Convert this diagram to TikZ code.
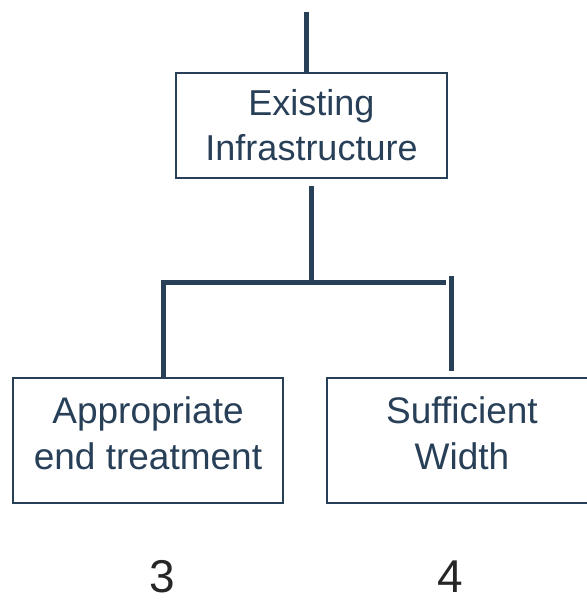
\documentclass[tikz,border=0pt]{standalone}
\usepackage{fontspec}
\setmainfont{Liberation Sans}
\definecolor{navy}{HTML}{283F58}
\definecolor{digit}{HTML}{262626}
\tikzset{
  topbox/.style={draw=navy, line width=1.2pt, text=navy, align=center,
    minimum width=271pt, minimum height=105pt, inner sep=0pt,
    font=\fontsize{36}{45}\selectfont},
  leafbox/.style={draw=navy, line width=1.2pt, text=navy, align=center,
    minimum width=270pt, minimum height=125pt, inner sep=0pt,
    text depth=14pt, font=\fontsize{37}{46}\selectfont},
  num/.style={text=digit, inner sep=0pt, font=\fontsize{46}{50}\selectfont},
  link/.style={navy, line width=5pt}
}
\begin{document}
\begin{tikzpicture}[x=1pt, y=-1pt]
    \useasboundingbox (0,0) rectangle (586,601);
    % boxes
    \node[topbox] (infra) at (311.5,125.5) {Existing\\Infrastructure};
    \node[leafbox] (appr) at (148,440.5) {Appropriate\\end treatment};
    \node[leafbox] (width) at (462,440.5) {Sufficient\\Width};
    \node[num] (n3) at (162,577) {3};
    \node[num] (n4) at (450,577) {4};
    % connector points
    \coordinate (top) at (306,12);
    \coordinate (split) at (311,282);
    \coordinate (lft) at (163,282);
    \coordinate (rgt) at (446,282);
    \coordinate (rtop) at (451,276);
    \draw[link] (top) -- (top |- infra.north);
    \draw[link] ([yshift=-7pt]infra.south -| split) -- (split);
    \draw[link] (rgt) -- (lft) -- (lft |- appr.north);
    \draw[link] (rtop) -- ([yshift=6pt]rtop |- width.north);
  \end{tikzpicture}
\end{document}
